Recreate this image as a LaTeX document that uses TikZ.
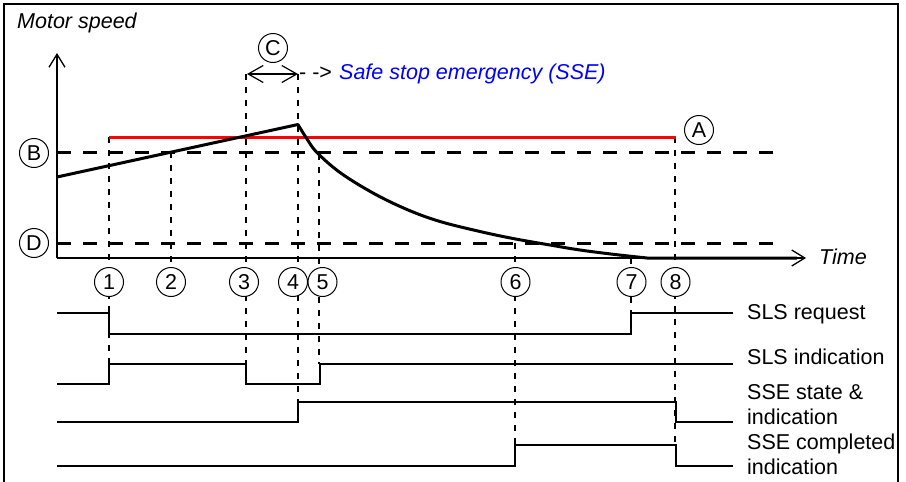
\documentclass[tikz,border=0pt]{standalone}
\usepackage{fontspec}
\setmainfont{Liberation Sans}
\usetikzlibrary{arrows.meta}
\definecolor{ssered}{RGB}{255,0,0}
\definecolor{sseblue}{RGB}{0,0,255}
\begin{document}
\begin{tikzpicture}[x=1pt,y=-1pt,
  every node/.style={font=\fontsize{21.5}{25}\selectfont, inner sep=0pt},
  thickline/.style={line width=3pt, line join=round},
  limitline/.style={line width=3pt, dash pattern=on 14pt off 12pt},
  guide/.style={line width=1.2pt, dash pattern=on 6pt off 7pt},
  signal/.style={line width=1.3pt},
  marker/.style={circle, draw, line width=1pt, fill=white, minimum size=29pt},
  axisline/.style={line width=1.3pt, -{Straight Barb[length=13pt,width=16pt,line width=1.3pt]}},
  sig/.style={anchor=west, align=left},
  itext/.style={anchor=west, font=\fontsize{21.5}{25}\selectfont\itshape},
]
\useasboundingbox (0,0) rectangle (906,482);
% frame
\draw[line width=1.5pt] (4,482) -- (4,4) -- (898,4) -- (898,482);

% title
\node[itext] (ms) at (17,23) {Motor speed};

% guide lines
\draw[guide] (109,137) -- (109,364);
\draw[guide] (171,152) -- (171,282);
\draw[guide] (246,74) -- (246,364);
\draw[guide] (298,74) -- (298,402);
\draw[guide] (319,154) -- (319,364);
\draw[guide] (515,243) -- (515,445);
\draw[guide] (631,258) -- (631,313);
\draw[guide] (675,137) -- (675,445);

% limits
\draw[ssered, line width=3pt] (109,137) -- (676,137);
\draw[limitline] (57,152) -- (773,152);
\draw[limitline] (57,243) -- (773,243);

% axes
\coordinate (O) at (57,258);
\draw[axisline] (O) -- (57,53);
\draw[axisline] (O) -- (806,258);
\node[itext] (time) at (819,257) {Time};

% speed curve
\draw[thickline] (57,177) -- plot[smooth, tension=0.6] coordinates {(298,124.5) (307,139) (317,152.5) (340,172.5) (373,193) (407,209.5) (440,221.5) (480,231.5) (513,238.5) (550,245) (580,250) (615,254.5) (647,258)} -- (797,258);

% C interval
\draw[line width=1.2pt, {Straight Barb[length=15pt,width=17pt,line width=1.2pt]}-{Straight Barb[length=15pt,width=17pt,line width=1.2pt]}] (247,74) -- (298,74);
\node[anchor=west] (arr) at (299,73) {- ->};
\node[itext, text=sseblue] (sse) at (339,74) {Safe stop emergency (SSE)};

% markers
\node[marker] (cA) at (699,130) {A};
\node[marker] (cB) at (34,153) {B};
\node[marker] (cC) at (273,48) {C};
\node[marker] (cD) at (34,243) {D};
\node[marker] (n1) at (109,282) {1};
\node[marker] (n2) at (171,282) {2};
\node[marker] (n3) at (244,282) {3};
\node[marker] (n4) at (293,282) {4};
\node[marker] (n5) at (322.5,282) {5};
\node[marker] (n6) at (515.5,282) {6};
\node[marker] (n7) at (631.5,282) {7};
\node[marker] (n8) at (675.5,282) {8};

% signals
\draw[signal] (57,313) -- (109,313) -- (109,334) -- (631,334) -- (631,313) -- (733,313);
\draw[signal] (57,384) -- (109,384) -- (109,364) -- (246,364) -- (246,384) -- (320,384) -- (320,364) -- (733,364);
\draw[signal] (57,422) -- (298,422) -- (298,402) -- (676,402) -- (676,422) -- (733,422);
\draw[signal] (57,466) -- (515,466) -- (515,445) -- (676,445) -- (676,466) -- (733,466);

\node[sig] (l1) at (747,314) {SLS request};
\node[sig] (l2) at (747,357) {SLS indication};
\node[sig] (l3) at (747,405) {SSE state \&\\indication};
\node[sig] (l4) at (747,454) {SSE completed\\indication};
\end{tikzpicture}
\end{document}
